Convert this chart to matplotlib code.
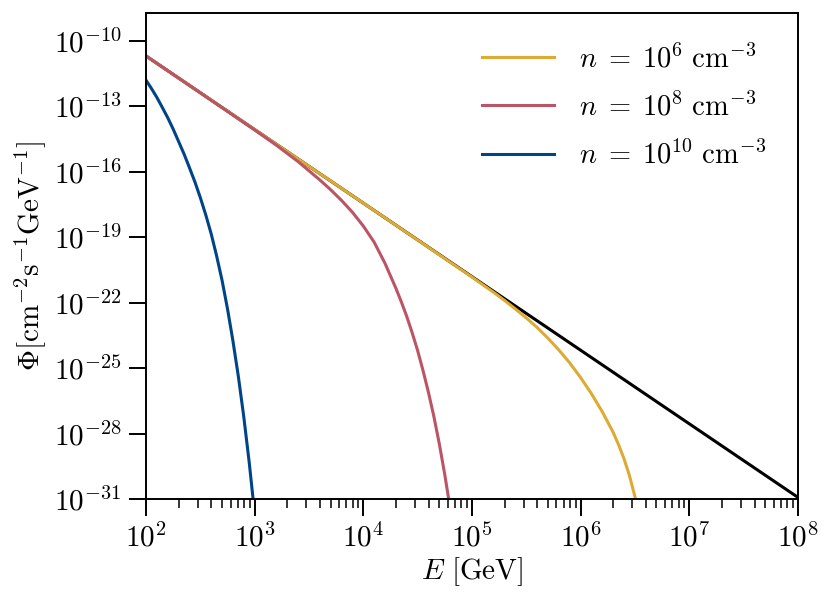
import numpy as np
import matplotlib
matplotlib.use("Agg")
import matplotlib.pyplot as plt
from matplotlib.ticker import LogLocator, NullLocator

plt.rcParams['font.family'] = 'serif'
plt.rcParams['font.serif'] = ['cmr10', 'DejaVu Serif']
plt.rcParams['mathtext.fontset'] = 'cm'
plt.rcParams['axes.formatter.use_mathtext'] = True

# values, as log10(E / GeV) and log10(Phi)
black_logE = [2.0, 8.0]
black_logPhi = [-10.70, -30.92]

yellow_logE = [2.0, 3.0, 4.0, 4.5, 5.0, 5.2, 5.3, 5.4, 5.5, 5.6, 5.7, 5.8, 5.9,
               6.0, 6.1, 6.2, 6.3, 6.35, 6.4, 6.45, 6.5, 6.55]
yellow_logPhi = [-10.70, -14.07, -17.44, -19.13, -20.83, -21.53, -21.90, -22.29, -22.70,
                 -23.14, -23.63, -24.17, -24.76, -25.43, -26.17, -27.00, -27.94, -28.51,
                 -29.15, -29.92, -30.87, -31.93]

red_logE = [2.0, 2.5, 3.0, 3.2, 3.4, 3.5, 3.6, 3.7, 3.8, 3.9, 4.0, 4.1, 4.2, 4.3,
            4.35, 4.4, 4.45, 4.5, 4.55, 4.6, 4.65, 4.7, 4.75, 4.8]
red_logPhi = [-10.70, -12.39, -14.09, -14.79, -15.54, -15.96, -16.38, -16.83, -17.32,
              -17.86, -18.49, -19.23, -20.20, -21.34, -21.96, -22.63, -23.38, -24.19,
              -25.11, -26.11, -27.22, -28.47, -29.87, -31.43]

blue_logE = [2.0, 2.05, 2.1, 2.15, 2.2, 2.25, 2.3, 2.35, 2.4, 2.45, 2.5, 2.55, 2.6,
             2.65, 2.7, 2.75, 2.8, 2.85, 2.9, 2.95, 3.0]
blue_logPhi = [-11.81, -12.19, -12.60, -13.06, -13.53, -14.05, -14.62, -15.19, -15.82,
               -16.47, -17.19, -17.98, -18.85, -19.86, -20.98, -22.28, -23.75, -25.38,
               -27.23, -29.32, -31.67]

labels = [r'$n\;=\;10^{6}\ \mathrm{cm}^{-3}$',
          r'$n\;=\;10^{8}\ \mathrm{cm}^{-3}$',
          r'$n\;=\;10^{10}\ \mathrm{cm}^{-3}$']
colors = ['#DDAA33', '#BB5566', '#004488']

fig = plt.figure(figsize=(8.31, 6.03), dpi=100)
ax = fig.add_axes([0.1757, 0.1725, 0.7843, 0.806])

lw = 2.2
ax.plot(np.power(10.0, black_logE), np.power(10.0, black_logPhi), color='black', lw=lw)
ax.plot(np.power(10.0, yellow_logE), np.power(10.0, yellow_logPhi), color=colors[0], lw=lw, label=labels[0])
ax.plot(np.power(10.0, red_logE), np.power(10.0, red_logPhi), color=colors[1], lw=lw, label=labels[1])
ax.plot(np.power(10.0, blue_logE), np.power(10.0, blue_logPhi), color=colors[2], lw=lw, label=labels[2])

ax.set_xscale('log')
ax.set_yscale('log')
ax.set_xlim(1e2, 1e8)
ax.set_ylim(1e-31, 10 ** -8.73)

ax.set_yticks([10.0 ** k for k in range(-31, -9, 3)])
ax.yaxis.set_minor_locator(NullLocator())
ax.xaxis.set_major_locator(LogLocator(base=10, numticks=20))
ax.xaxis.set_minor_locator(LogLocator(base=10, subs=np.arange(2, 10), numticks=20))

for s in ax.spines.values():
    s.set_linewidth(1.4)
ax.tick_params(which='major', direction='out', length=12.5, width=1.4, labelsize=21, pad=5)
ax.tick_params(which='minor', direction='out', length=6.5, width=1.1)

ax.set_xlabel(r'$E\ [\mathrm{GeV}]$', fontsize=21, labelpad=2)
ax.set_ylabel(r'$\Phi [\mathrm{cm}^{-2}\mathrm{s}^{-1}\mathrm{GeV}^{-1}]$', fontsize=21, labelpad=4)

ax.legend(loc='upper right', frameon=False, fontsize=20.5, handlelength=2.5,
          handletextpad=0.9, labelspacing=0.68, borderaxespad=0.7)

fig.savefig('out.png', dpi=100)
